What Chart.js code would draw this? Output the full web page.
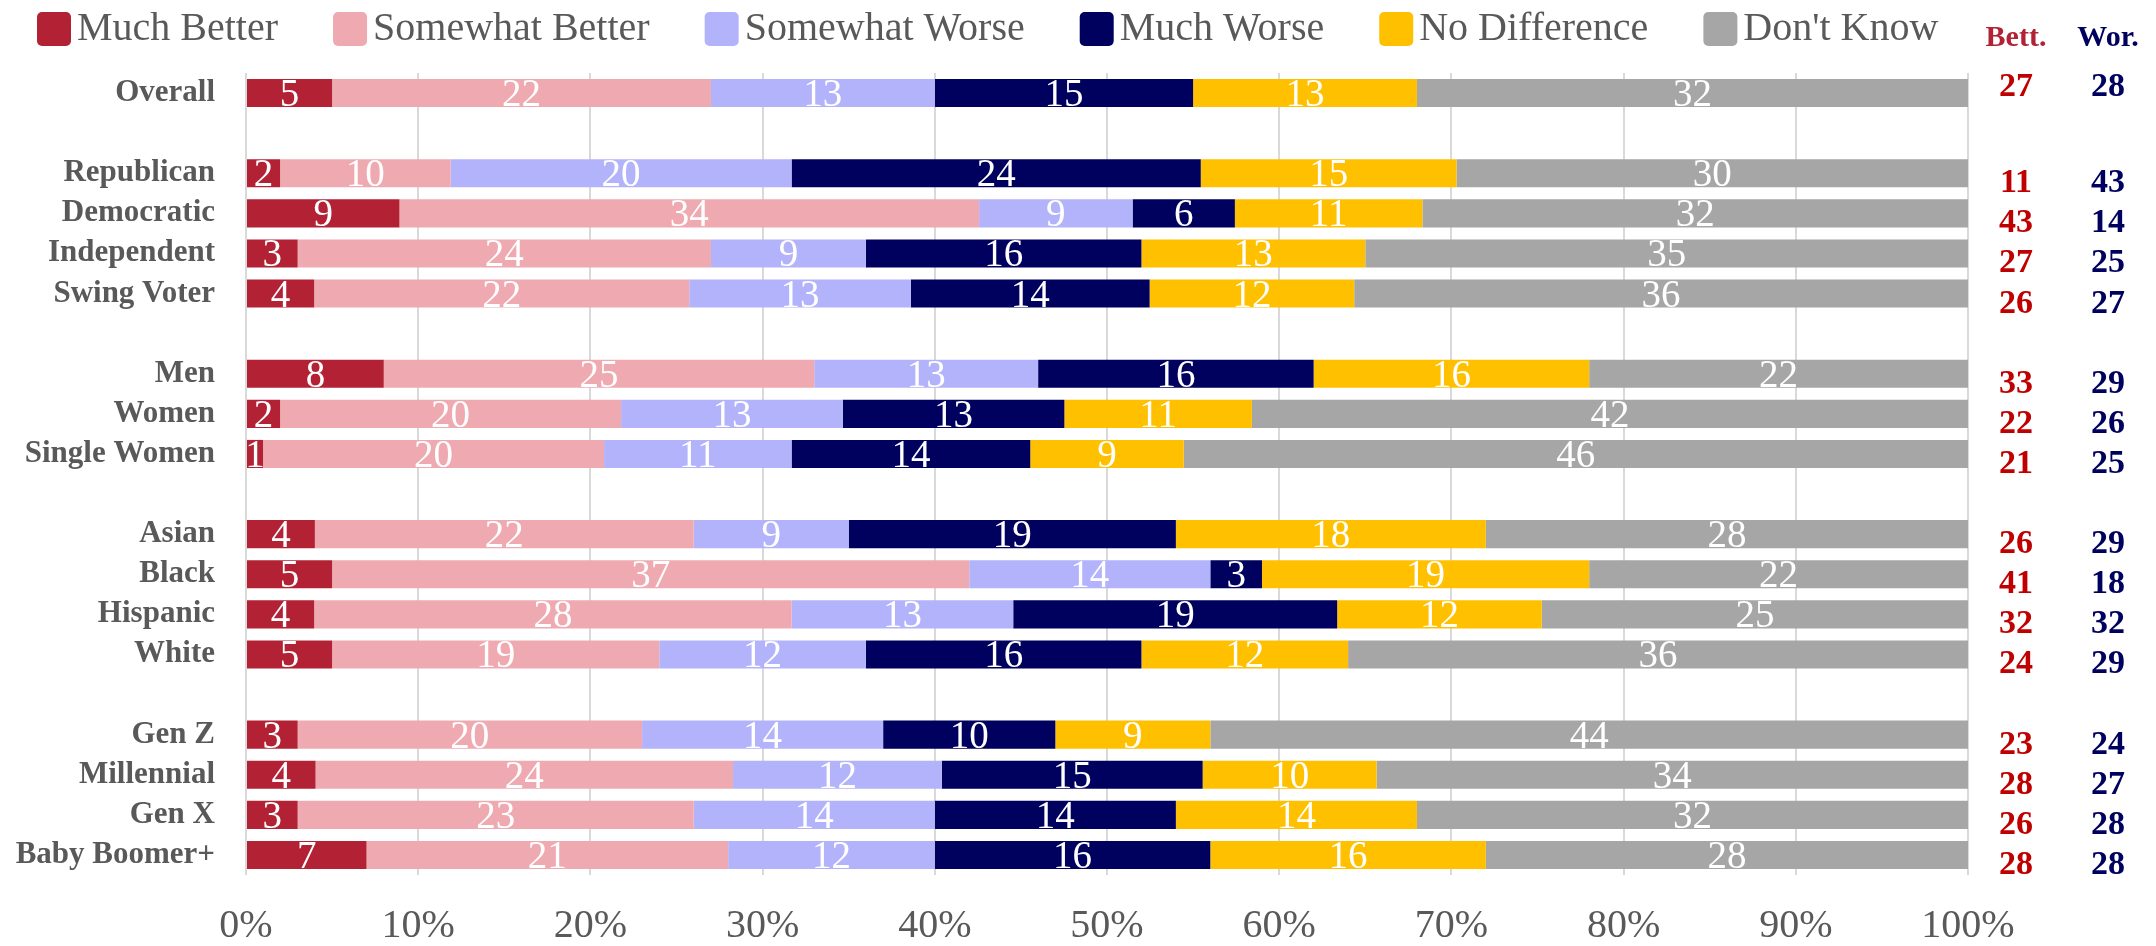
<!DOCTYPE html>
<html>
<head>
<meta charset="utf-8">
<script src="https://cdn.jsdelivr.net/npm/chart.js@4"></script>
<style>
  html, body { margin: 0; padding: 0; background: #fff; overflow: hidden; }
  #wrap { width: 2156px; height: 946px; }
</style>
</head>
<body>
<div id="wrap"><canvas id="chart"></canvas></div>
<script>
// rows, with blank rows as group separators
var groups = ['Overall', '', 'Republican', 'Democratic', 'Independent', 'Swing Voter', '',
  'Men', 'Women', 'Single Women', '', 'Asian', 'Black', 'Hispanic', 'White', '',
  'Gen Z', 'Millennial', 'Gen X', 'Baby Boomer+'];

var seriesNames = ['Much Better', 'Somewhat Better', 'Somewhat Worse', 'Much Worse', 'No Difference', "Don't Know"];
var seriesColors = ['#B22234', '#EEAAB0', '#B3B3FC', '#00005E', '#FFC000', '#A6A6A6'];

var muchBetter     = [5, null, 2, 9, 3, 4, null, 8, 2, 1, null, 4, 5, 4, 5, null, 3, 4, 3, 7];
var somewhatBetter = [22, null, 10, 34, 24, 22, null, 25, 20, 20, null, 22, 37, 28, 19, null, 20, 24, 23, 21];
var somewhatWorse  = [13, null, 20, 9, 9, 13, null, 13, 13, 11, null, 9, 14, 13, 12, null, 14, 12, 14, 12];
var muchWorse      = [15, null, 24, 6, 16, 14, null, 16, 13, 14, null, 19, 3, 19, 16, null, 10, 15, 14, 16];
var noDifference   = [13, null, 15, 11, 13, 12, null, 16, 11, 9, null, 18, 19, 12, 12, null, 9, 10, 14, 16];
var dontKnow       = [32, null, 30, 32, 35, 36, null, 22, 42, 46, null, 28, 22, 25, 36, null, 44, 34, 32, 28];

var bettTotals = [27, null, 11, 43, 27, 26, null, 33, 22, 21, null, 26, 41, 32, 24, null, 23, 28, 26, 28];
var worTotals  = [28, null, 43, 14, 25, 27, null, 29, 26, 25, null, 29, 18, 32, 29, null, 24, 27, 28, 28];

var xTicks = [0, 10, 20, 30, 40, 50, 60, 70, 80, 90, 100];

var FONT = '"Liberation Serif", "DejaVu Serif", serif';
var GREY = '#595959';

var series = [muchBetter, somewhatBetter, somewhatWorse, muchWorse, noDifference, dontKnow];

// bars are drawn as shares of each row's total so that every bar fills 100%
var rowSums = groups.map(function(g, i) {
  var s = 0;
  series.forEach(function(arr) { s += arr[i] || 0; });
  return s;
});

var datasets = series.map(function(arr, k) {
  return {
    label: seriesNames[k],
    backgroundColor: seriesColors[k],
    raw: arr,
    data: arr.map(function(v, i) { return v === null ? null : v * 100 / rowSums[i]; }),
    barPercentage: 0.7,
    categoryPercentage: 1.0
  };
});

var barLabels = {
  id: 'barLabels',
  afterDatasetsDraw: function(chart) {
    var ctx = chart.ctx;
    ctx.save();
    ctx.font = '39px ' + FONT;
    ctx.fillStyle = '#fff';
    ctx.textAlign = 'center';
    ctx.textBaseline = 'alphabetic';
    chart.data.datasets.forEach(function(ds, d) {
      chart.getDatasetMeta(d).data.forEach(function(bar, i) {
        var v = ds.raw[i];
        if (v === null || v === undefined) return;
        var p = bar.getProps(['x', 'base', 'y'], true);
        ctx.fillText(String(v), (p.x + p.base) / 2, p.y + 13);
      });
    });
    ctx.restore();
  }
};

var sideTable = {
  id: 'sideTable',
  afterDraw: function(chart) {
    var ctx = chart.ctx, area = chart.chartArea, yScale = chart.scales.y;
    var cols = [
      { title: 'Bett.', titleColor: '#B22234', color: '#C00000', values: bettTotals, dx: 48 },
      { title: 'Wor.', titleColor: '#00005E', color: '#00005E', values: worTotals, dx: 140 }
    ];
    ctx.save();
    ctx.textAlign = 'center';
    ctx.textBaseline = 'alphabetic';
    cols.forEach(function(c) {
      var cx = area.right + c.dx;
      ctx.font = 'bold 30px ' + FONT;
      ctx.fillStyle = c.titleColor;
      ctx.fillText(c.title, cx, 46);
      ctx.font = 'bold 34px ' + FONT;
      ctx.fillStyle = c.color;
      c.values.forEach(function(v, i) {
        if (v === null) return;
        // the side table sits a little lower than the bars, except the first row
        var shift = i === 0 ? -8 : 8;
        ctx.fillText(String(v), cx, yScale.getPixelForValue(i) + shift + 11);
      });
    });
    ctx.restore();
  }
};

var topLegend = {
  id: 'topLegend',
  afterDraw: function(chart) {
    var ctx = chart.ctx;
    var x = 37;
    ctx.save();
    ctx.font = '40px ' + FONT;
    ctx.textAlign = 'left';
    ctx.textBaseline = 'alphabetic';
    chart.data.datasets.forEach(function(ds) {
      ctx.fillStyle = ds.backgroundColor;
      ctx.beginPath();
      if (ctx.roundRect) ctx.roundRect(x, 12, 34, 34, 5); else ctx.rect(x, 12, 34, 34);
      ctx.fill();
      ctx.fillStyle = GREY;
      ctx.fillText(ds.label, x + 40, 40);
      x += 40 + ctx.measureText(ds.label).width + 55;
    });
    ctx.restore();
  }
};

new Chart(document.getElementById('chart'), {
  type: 'bar',
  data: { labels: groups, datasets: datasets },
  plugins: [barLabels, sideTable, topLegend],
  options: {
    indexAxis: 'y',
    responsive: true,
    maintainAspectRatio: false,
    animation: false,
    devicePixelRatio: 1,
    layout: { padding: { top: 73, left: 16, right: 188, bottom: 0 } },
    plugins: {
      legend: { display: false },
      tooltip: { enabled: false }
    },
    scales: {
      x: {
        stacked: true,
        min: 0,
        max: 100,
        afterBuildTicks: function(axis) {
          axis.ticks = xTicks.map(function(v) { return { value: v }; });
        },
        afterFit: function(axis) { axis.height = 71; },
        ticks: {
          callback: function(v) { return v + '%'; },
          font: { family: FONT, size: 40, lineHeight: 1 },
          color: GREY,
          padding: 31,
          maxRotation: 0
        },
        grid: { color: '#D9D9D9', lineWidth: 2, drawTicks: false },
        border: { display: false }
      },
      y: {
        stacked: true,
        afterFit: function(axis) { axis.width = 230; },
        ticks: {
          font: { family: FONT, size: 31, weight: 'bold' },
          color: GREY,
          padding: 31,
          autoSkip: false
        },
        grid: { display: false, drawTicks: false },
        border: { display: false }
      }
    }
  }
});
</script>
</body>
</html>
